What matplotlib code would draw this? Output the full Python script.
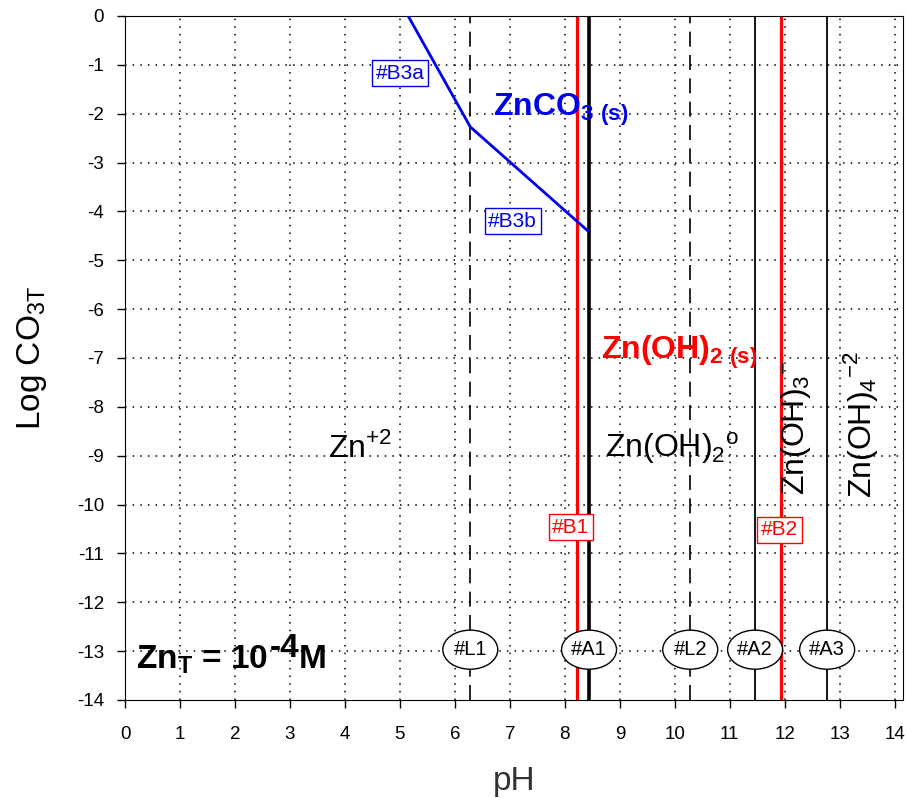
import matplotlib
matplotlib.use("Agg")
import matplotlib.pyplot as plt
from matplotlib.patches import Ellipse
from matplotlib.transforms import offset_copy

plt.rcParams['font.family'] = ['Liberation Sans', 'DejaVu Sans']

# Data
b3_ph = [5.15, 6.28, 8.42]
b3_logc = [0.0, -2.27, -4.40]
vline_names = ['#L1', '#B1', '#A1', '#L2', '#A2', '#B2', '#A3']
vline_ph = [6.28, 8.22, 8.44, 10.28, 11.46, 11.93, 12.77]
vline_colors = ['black', 'red', 'black', 'black', 'black', 'red', 'black']
vline_styles = ['--', '-', '-', '--', '-', '-', '-']
vline_widths = [1.2, 2.3, 2.6, 1.2, 1.3, 2.3, 1.3]
xticks = list(range(0, 15))
yticks = list(range(0, -15, -1))

fig = plt.figure(figsize=(9.07, 7.98), dpi=100)
ax = fig.add_axes([125/907, 1-700/798, (903-125)/907, (700-16)/798])
ax.set_xlim(0, 14.15)
ax.set_ylim(-14, 0)
ax.set_xticks(xticks)
ax.set_yticks(yticks)
ax.set_xticklabels([str(t) for t in xticks], fontsize=13.5)
ax.set_yticklabels([str(t) for t in yticks], fontsize=13.5)
ax.tick_params(axis='x', direction='out', length=6, width=1, pad=13)
ax.tick_params(axis='y', direction='out', length=6, width=1, pad=9)
for x in range(1, 15):
    ax.axvline(x, color='black', linestyle=(0, (1, 4)), linewidth=1.1, zorder=0)
for y in range(-13, 0):
    ax.axhline(y, color='black', linestyle=(0, (1, 4)), linewidth=1.1, zorder=0)

for ph, c, ls, lw in zip(vline_ph, vline_colors, vline_styles, vline_widths):
    if ls == '--':
        ax.plot([ph, ph], [-14, 0], color=c, linestyle=(0, (9, 5)), linewidth=lw, zorder=2)
    else:
        ax.plot([ph, ph], [-14, 0], color=c, linestyle=ls, linewidth=lw, zorder=2)

ax.plot(b3_ph, b3_logc, color='#0000ee', linewidth=2, zorder=3)

ax.set_xlabel('pH', fontsize=24, color='#333333', labelpad=16)
ax.set_ylabel(r'Log CO$_{\mathregular{3T}}$', fontsize=24, color='black', labelpad=20)

# ellipse labels at y=-13
ell_names = ['#L1', '#A1', '#L2', '#A2', '#A3']
ell_ph = [6.28, 8.44, 10.28, 11.46, 12.77]
for name, ph in zip(ell_names, ell_ph):
    e = Ellipse((ph, -12.97), width=1.0, height=0.8, facecolor='white', edgecolor='black', linewidth=1, zorder=4)
    ax.add_patch(e)
    ax.text(ph, -12.97, name, ha='center', va='center', fontsize=14.5, zorder=5)

# boxed labels
def boxlab(x, y, s, color):
    ax.text(x, y, s, ha='center', va='center', fontsize=15, color=color, zorder=5,
            bbox=dict(boxstyle='square,pad=0.18', facecolor='white', edgecolor=color, linewidth=1))

boxlab(5.0, -1.17, '#B3a', '#0000ee')
boxlab(7.05, -4.2, '#B3b', '#0000ee')
boxlab(8.11, -10.46, '#B1', 'red')
boxlab(11.9, -10.52, '#B2', 'red')

ax.text(6.7, -1.92, r'ZnCO$_{\mathregular{3\ (s)}}$', fontsize=23, fontweight='bold', color='#0000ee', ha='left', va='center', zorder=5)
ax.text(8.65, -6.88, r'Zn(OH)$_{\mathregular{2\ (s)}}$', fontsize=23, fontweight='bold', color='red', ha='left', va='center', zorder=5)
ax.text(3.7, -8.85, r'Zn$^{\mathregular{+2}}$', fontsize=23, color='black', ha='left', va='center', zorder=5)
ax.text(8.73, -8.85, r'Zn(OH)$_{\mathregular{2}}$$^{\mathregular{o}}$', fontsize=23, color='black', ha='left', va='center', zorder=5)
ax.text(12.2, -8.42, r'Zn(OH)$_{\mathregular{3}}$$^{\mathregular{-}}$', fontsize=23, color='black', ha='center', va='center', rotation=90, zorder=5)
ax.text(13.38, -8.35, r'Zn(OH)$_{\mathregular{4}}$$^{\mathregular{-2}}$', fontsize=23, color='black', ha='center', va='center', rotation=90, zorder=5)

# Zn_T = 10^-4 M, built in pieces
renderer = fig.canvas.get_renderer()
t1 = ax.text(0.2, -13.35, r'Zn$_{\mathregular{T}}$ = 10', fontsize=24, fontweight='bold', color='black',
             ha='left', va='baseline', zorder=5)
bb = t1.get_window_extent(renderer)
x_end = ax.transData.inverted().transform((bb.x1, 0))[0]
t2 = ax.text(x_end, -13.35, '-4', fontsize=24, fontweight='bold', color='black', ha='left', va='baseline', zorder=5,
             transform=offset_copy(ax.transData, fig=fig, x=1, y=8, units='points'))
bb2 = t2.get_window_extent(renderer)
x_end2 = ax.transData.inverted().transform((bb2.x1, 0))[0]
ax.text(x_end2, -13.35, 'M', fontsize=24, fontweight='bold', color='black', ha='left', va='baseline', zorder=5)

fig.savefig('out.png', dpi=100)
